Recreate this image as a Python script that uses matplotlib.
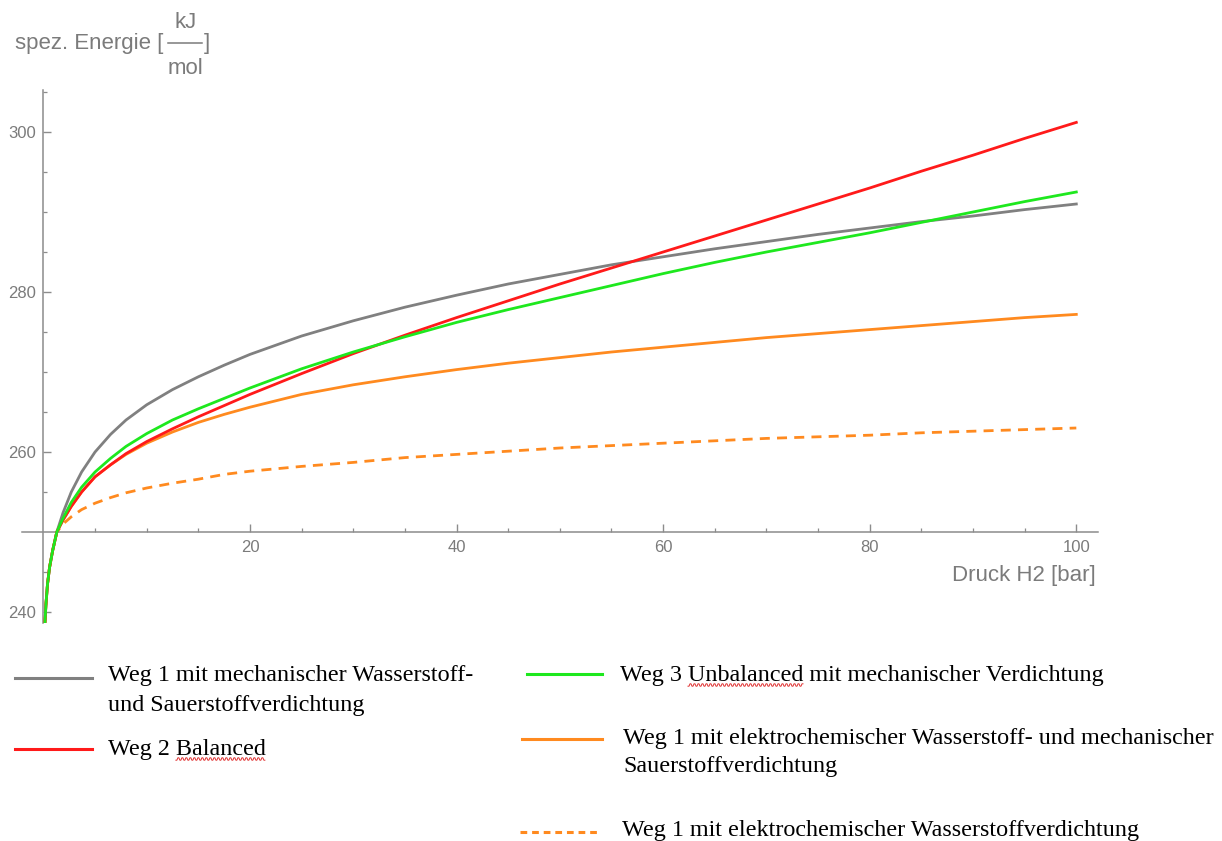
import numpy as np
import matplotlib
matplotlib.use("Agg")
import matplotlib.pyplot as plt
from matplotlib.lines import Line2D

# Pressure of H2 in bar
druck = [0.15, 0.25, 0.4, 0.6, 0.9, 1.3, 1.9, 2.7, 3.7, 5, 6.5, 8, 10, 12.5, 15, 17.5,
         20, 25, 30, 35, 40, 45, 50, 55, 60, 65, 70, 75, 80, 85, 90, 95, 100]

# Specific energy in kJ/mol for each route
weg1_mech = [238.7, 241.0, 243.5, 245.6, 247.7, 250.0, 252.4, 255.0, 257.5, 260.0, 262.2,
             264.0, 265.9, 267.8, 269.4, 270.85, 272.2, 274.5, 276.4, 278.1, 279.6, 281.0,
             282.2, 283.4, 284.4, 285.4, 286.3, 287.2, 288.0, 288.8, 289.5, 290.3, 291.0]
weg2_balanced = [238.7, 241.0, 243.5, 245.6, 247.7, 250.0, 251.5, 253.2, 255.0, 256.9, 258.4,
                 259.8, 261.3, 262.9, 264.4, 265.8, 267.2, 269.8, 272.3, 274.6, 276.8, 278.9,
                 281.0, 283.0, 285.0, 287.0, 289.0, 291.0, 293.0, 295.1, 297.1, 299.2, 301.2]
weg3_unbalanced = [238.7, 241.0, 243.5, 245.6, 247.7, 250.0, 251.7, 253.7, 255.6, 257.5, 259.2,
                   260.7, 262.3, 264.0, 265.4, 266.7, 268.0, 270.4, 272.5, 274.4, 276.2, 277.8,
                   279.3, 280.8, 282.3, 283.7, 285.0, 286.2, 287.4, 288.7, 290.0, 291.3, 292.5]
weg1_elektro_mech = [238.7, 241.0, 243.5, 245.6, 247.7, 250.0, 251.5, 253.2, 255.0, 256.9, 258.4,
                     259.7, 261.1, 262.5, 263.7, 264.7, 265.6, 267.2, 268.4, 269.4, 270.3, 271.1,
                     271.8, 272.5, 273.1, 273.7, 274.3, 274.8, 275.3, 275.8, 276.3, 276.8, 277.2]
weg1_elektro = [238.7, 241.0, 243.5, 245.6, 247.7, 250.0, 251.0, 251.9, 252.8, 253.6, 254.3,
                254.9, 255.5, 256.1, 256.6, 257.2, 257.6, 258.2, 258.7, 259.3, 259.7, 260.1,
                260.5, 260.8, 261.1, 261.4, 261.7, 261.9, 262.1, 262.4, 262.6, 262.8, 263.0]

x_major = [20, 40, 60, 80, 100]
x_minor = [5, 10, 15, 25, 30, 35, 45, 50, 55, 65, 70, 75, 85, 90, 95]
y_major = [240, 260, 280, 300]
y_minor = [245, 255, 265, 270, 275, 285, 290, 295, 305]

GRAY = "#808080"
RED = "#ff1a1a"
GREEN = "#1ee81e"
ORANGE = "#ff8a1f"
AXIS_COL = "#8c8c8c"
TEXT_COL = "#7b7b7b"
SANS = "Liberation Sans"
SERIF = "Liberation Serif"

W, H = 1222, 841
fig = plt.figure(figsize=(W / 100, H / 100), dpi=100)


def fx(px):
    return px / W


def fy(py):
    return 1 - py / H


left, right, top, bottom = 21.7, 1098.0, 90.4, 623.2
ax = fig.add_axes([fx(left), fy(bottom), (right - left) / W, (bottom - top) / H])
ax.set_xlim(-2.1, 102.1)
ax.set_ylim(238.6, 305.2)
ax.patch.set_alpha(0)
for s in ("top", "right"):
    ax.spines[s].set_visible(False)
ax.spines["left"].set_position(("data", 0))
ax.spines["bottom"].set_position(("data", 250))
for s in ("left", "bottom"):
    ax.spines[s].set_color(AXIS_COL)
    ax.spines[s].set_linewidth(1.1)

ax.set_xticks(x_major)
ax.set_xticks(x_minor, minor=True)
ax.set_yticks(y_major)
ax.set_yticks(y_minor, minor=True)
ax.set_xticklabels([str(v) for v in x_major])
ax.set_yticklabels([str(v) for v in y_major])
ax.tick_params(which="major", direction="in", length=5.5, width=1, color=AXIS_COL,
               labelcolor=TEXT_COL, labelsize=12)
ax.tick_params(which="minor", direction="in", length=3.2, width=0.9, color=AXIS_COL)
ax.tick_params(axis="x", which="major", pad=6)
ax.tick_params(axis="y", which="major", pad=5)
for lab in ax.get_xticklabels() + ax.get_yticklabels():
    lab.set_family(SANS)

lw = 2.0
ax.plot(druck, weg1_mech, color=GRAY, lw=lw, zorder=2)
ax.plot(druck, weg1_elektro, color=ORANGE, lw=lw, ls=(0, (3.6, 2.6)), zorder=2)
ax.plot(druck, weg1_elektro_mech, color=ORANGE, lw=lw, zorder=3)
ax.plot(druck, weg2_balanced, color=RED, lw=lw, zorder=4)
ax.plot(druck, weg3_unbalanced, color=GREEN, lw=lw, zorder=5)

# Axis titles
fig.text(fx(1096), fy(575), "Druck H2 [bar]", ha="right", va="center",
         color=TEXT_COL, fontsize=16, family=SANS)
fig.text(fx(15), fy(44), "spez. Energie [", ha="left", va="center",
         color=TEXT_COL, fontsize=16, family=SANS)
fig.text(fx(186), fy(22), "kJ", ha="center", va="center",
         color=TEXT_COL, fontsize=16, family=SANS)
fig.text(fx(185), fy(69), "mol", ha="center", va="center",
         color=TEXT_COL, fontsize=16, family=SANS)
fig.add_artist(Line2D([fx(168), fx(202)], [fy(43), fy(43)], transform=fig.transFigure,
                      color=TEXT_COL, lw=1.1))
fig.text(fx(204), fy(44), "]", ha="left", va="center",
         color=TEXT_COL, fontsize=16, family=SANS)

# Legend below the plot
LEG_FS = 17.4


def leg_line(x0, x1, y, color, ls="-"):
    fig.add_artist(Line2D([fx(x0), fx(x1)], [fy(y), fy(y)], transform=fig.transFigure,
                          color=color, lw=2.2, ls=ls))


def leg_text(x, y, s):
    return fig.text(fx(x), fy(y), s, ha="left", va="baseline", color="black",
                    fontsize=LEG_FS, family=SERIF)


leg_line(15, 92, 678, GRAY)
leg_text(108, 681, "Weg 1 mit mechanischer Wasserstoff-")
leg_text(108, 711, "und Sauerstoffverdichtung")

leg_line(15, 92, 749, RED)
leg_text(108, 755, "Weg 2 Balanced")

leg_line(527, 602, 674, GREEN)
leg_text(620, 681, "Weg 3 Unbalanced mit mechanischer Verdichtung")

leg_line(522, 602, 739, ORANGE)
leg_text(623, 744, "Weg 1 mit elektrochemischer Wasserstoff- und mechanischer")
leg_text(623, 772, "Sauerstoffverdichtung")

leg_line(520, 600, 832, ORANGE, ls=(0, (2.2, 1.6)))
leg_text(622, 836, "Weg 1 mit elektrochemischer Wasserstoffverdichtung")

# Wavy spell-check underline beneath a word of a legend entry
renderer = fig.canvas.get_renderer()


def text_width(s):
    tmp = fig.text(0, 0, s, fontsize=LEG_FS, family=SERIF)
    w = tmp.get_window_extent(renderer).width
    tmp.remove()
    return w


def squiggle(x0, baseline, prefix_with_word, word):
    end = x0 + text_width(prefix_with_word)
    start = end - text_width(word)
    xs = np.arange(start, end, 1.0)
    ys = baseline + 4 + 1.2 * np.where((np.floor((xs - start) / 2.0) % 2) == 0, 1, -1)
    fig.add_artist(Line2D(xs / W, 1 - ys / H, transform=fig.transFigure,
                          color="#e03030", lw=0.7))


squiggle(108, 755, "Weg 2 Balanced", "Balanced")
squiggle(620, 681, "Weg 3 Unbalanced", "Unbalanced")

fig.savefig("out.png", dpi=100)
